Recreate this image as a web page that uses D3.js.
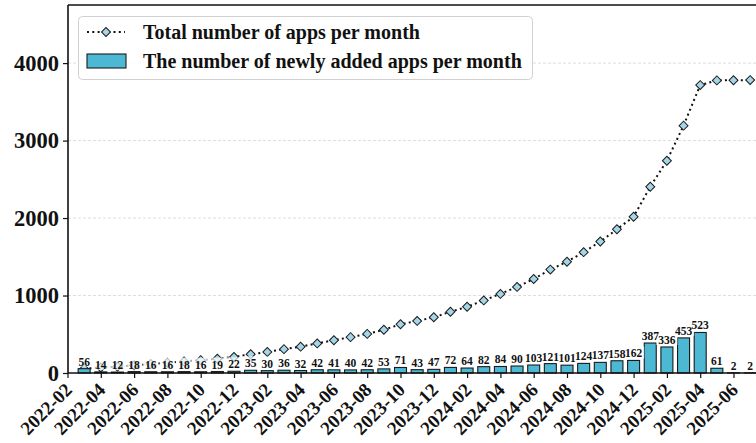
<!DOCTYPE html>
<html>
<head>
<meta charset="utf-8">
<script src="https://cdn.jsdelivr.net/npm/d3@7"></script>
<style>
  body { margin: 0; background: #fff; }
  svg { display: block; font-family: "Liberation Serif", "Times New Roman", serif; font-weight: bold; }
</style>
</head>
<body>
<div id="main"></div>
<script>
// Months of data (2022-03 .. 2025-07) and the newly added apps in each
const months = [
  "2022-03", "2022-04", "2022-05", "2022-06", "2022-07", "2022-08", "2022-09", "2022-10", "2022-11", "2022-12",
  "2023-01", "2023-02", "2023-03", "2023-04", "2023-05", "2023-06", "2023-07", "2023-08", "2023-09", "2023-10",
  "2023-11", "2023-12", "2024-01", "2024-02", "2024-03", "2024-04", "2024-05", "2024-06", "2024-07", "2024-08",
  "2024-09", "2024-10", "2024-11", "2024-12", "2025-01", "2025-02", "2025-03", "2025-04", "2025-05", "2025-06",
  "2025-07"
];
const newApps = [
  56, 14, 12, 18, 16, 16, 18, 16, 19, 22,
  35, 30, 36, 32, 42, 41, 40, 42, 53, 71,
  43, 47, 72, 64, 82, 84, 90, 103, 121, 101,
  124, 137, 158, 162, 387, 336, 453, 523, 61, 2,
  2
];
// running total of apps, as plotted by the dotted line
const totalApps = [
  56, 70, 82, 100, 116, 132, 150, 166, 185, 207,
  242, 272, 308, 340, 382, 423, 463, 505, 558, 629,
  672, 719, 791, 855, 937, 1021, 1111, 1214, 1335, 1436,
  1560, 1697, 1855, 2017, 2404, 2740, 3193, 3716, 3777, 3779,
  3781
];
const tickMonths = [
  "2022-02", "2022-04", "2022-06", "2022-08", "2022-10", "2022-12",
  "2023-02", "2023-04", "2023-06", "2023-08", "2023-10", "2023-12",
  "2024-02", "2024-04", "2024-06", "2024-08", "2024-10", "2024-12",
  "2025-02", "2025-04", "2025-06"
];
const yTicks = [0, 1000, 2000, 3000, 4000];

const svgWidth = 756, svgHeight = 443;
const plotLeft = 68, plotTop = 5, plotBottom = 373, plotRight = 775;

// month string -> months since 2022-02
const monthIndex = function (m) {
  const [yy, mm] = m.split("-").map(Number);
  return (yy - 2022) * 12 + (mm - 2);
};

const x = d3.scaleLinear().domain([0, 40]).range([67.5, 733.5]);
const y = d3.scaleLinear().domain([0, 4750]).range([plotBottom, plotTop]);
const barW = 12;
const labelSize = 11.5;

const svg = d3.select("#main").append("svg")
  .attr("width", svgWidth)
  .attr("height", svgHeight);

// grid lines
svg.append("g").selectAll("line").data(yTicks.filter(d => d > 0))
  .enter().append("line")
  .attr("x1", plotLeft).attr("x2", plotRight)
  .attr("y1", d => y(d)).attr("y2", d => y(d))
  .attr("stroke", "#d4d4d4")
  .attr("stroke-width", 0.8)
  .attr("stroke-dasharray", "3,2");

const data = months.map((m, i) => ({ m: m, i: monthIndex(m), n: newApps[i], t: totalApps[i] }));

// total line (drawn under the bars)
const line = d3.line().x(d => x(d.i)).y(d => y(d.t));
svg.append("path").datum(data)
  .attr("d", line)
  .attr("fill", "none")
  .attr("stroke", "#111")
  .attr("stroke-width", 2)
  .attr("stroke-dasharray", "2,3.3");

const diamond = d3.symbol().type(d3.symbolSquare).size(40);
svg.append("g").selectAll("path").data(data)
  .enter().append("path")
  .attr("d", diamond)
  .attr("transform", d => "translate(" + x(d.i) + "," + y(d.t) + ") rotate(45)")
  .attr("fill", "#a3d6e8")
  .attr("stroke", "#1a1a1a")
  .attr("stroke-width", 1);

// bars
svg.append("g").selectAll("rect").data(data)
  .enter().append("rect")
  .attr("x", d => x(d.i) - barW / 2)
  .attr("y", d => y(d.n))
  .attr("width", barW)
  .attr("height", d => plotBottom - y(d.n))
  .attr("fill", "#4cb8d4")
  .attr("stroke", "#1a1a1a")
  .attr("stroke-width", 1.1);

// bar value labels: half see-through white boxes first, then all texts on top
svg.append("g").selectAll("rect").data(data)
  .enter().append("rect")
  .attr("x", d => x(d.i) - String(d.n).length * labelSize / 4 - 2)
  .attr("y", d => y(d.n) - 14)
  .attr("width", d => String(d.n).length * labelSize / 2 + 4)
  .attr("height", 12)
  .attr("fill", "#fff")
  .attr("opacity", 0.7);
svg.append("g").selectAll("text").data(data)
  .enter().append("text")
  .attr("x", d => x(d.i))
  .attr("y", d => y(d.n) - 3)
  .attr("text-anchor", "middle")
  .attr("font-size", labelSize)
  .attr("fill", "#111")
  .text(d => d.n);

// axes frame
svg.append("line").attr("x1", plotLeft).attr("x2", plotRight).attr("y1", plotBottom).attr("y2", plotBottom)
  .attr("stroke", "#111").attr("stroke-width", 1.6);
svg.append("line").attr("x1", plotLeft).attr("x2", plotRight).attr("y1", plotTop).attr("y2", plotTop)
  .attr("stroke", "#111").attr("stroke-width", 1.6);
svg.append("line").attr("x1", plotLeft).attr("x2", plotLeft).attr("y1", plotTop).attr("y2", plotBottom)
  .attr("stroke", "#111").attr("stroke-width", 1.6);

// y axis
const yAxis = svg.append("g").attr("transform", "translate(" + plotLeft + ",0)")
  .call(d3.axisLeft(y).tickValues(yTicks).tickSize(5).tickPadding(4).tickFormat(d3.format("d")));
yAxis.select(".domain").remove();
yAxis.selectAll("line").attr("stroke", "#111").attr("stroke-width", 1.2);
yAxis.selectAll("text")
  .attr("font-size", 22.5)
  .attr("font-family", "Liberation Serif, serif")
  .attr("font-weight", "bold")
  .attr("fill", "#111");

// x axis
const xAxis = svg.append("g").attr("transform", "translate(0," + plotBottom + ")")
  .call(d3.axisBottom(x).tickValues(tickMonths.map(monthIndex)).tickSize(5).tickFormat((d, i) => tickMonths[i]));
xAxis.select(".domain").remove();
xAxis.selectAll("line").attr("stroke", "#111").attr("stroke-width", 1.2);
xAxis.selectAll("text")
  .attr("font-size", 19)
  .attr("font-family", "Liberation Serif, serif")
  .attr("font-weight", "bold")
  .attr("fill", "#111")
  .attr("text-anchor", "end")
  .attr("y", 0)
  .attr("dy", "0.68em")
  .attr("transform", "translate(-4,9) rotate(-45)");

// legend
const legend = svg.append("g");
legend.append("rect")
  .attr("x", 78.5).attr("y", 16.5)
  .attr("width", 454).attr("height", 63)
  .attr("rx", 4)
  .attr("fill", "#fff").attr("fill-opacity", 0.85)
  .attr("stroke", "#d0d0d0");
legend.append("line")
  .attr("x1", 87).attr("x2", 125).attr("y1", 32).attr("y2", 32)
  .attr("stroke", "#111").attr("stroke-width", 2).attr("stroke-dasharray", "2,3.3");
legend.append("path")
  .attr("d", diamond)
  .attr("transform", "translate(106,32) rotate(45)")
  .attr("fill", "#a3d6e8").attr("stroke", "#1a1a1a");
legend.append("rect")
  .attr("x", 87).attr("y", 54).attr("width", 39).attr("height", 14)
  .attr("fill", "#4cb8d4").attr("stroke", "#1a1a1a").attr("stroke-width", 1.1);
legend.selectAll("text").data(["Total number of apps per month", "The number of newly added apps per month"])
  .enter().append("text")
  .attr("x", 143)
  .attr("y", (d, i) => 39 + i * 29)
  .attr("font-size", 20)
  .attr("fill", "#111")
  .text(d => d);
</script>
</body>
</html>
